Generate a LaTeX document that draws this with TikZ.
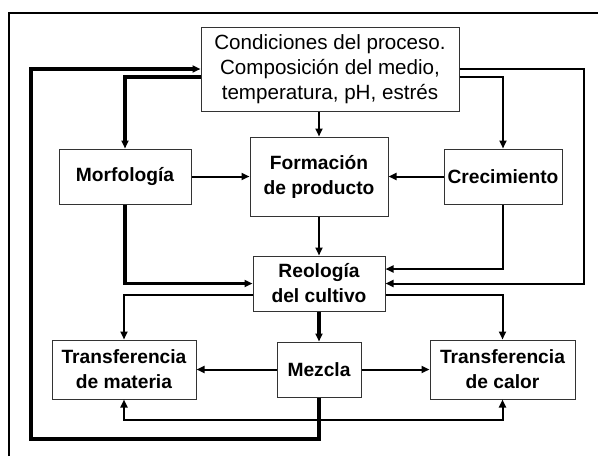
\documentclass[tikz,border=0pt]{standalone}
\usepackage{fontspec}
\setmainfont{Liberation Sans}
\usetikzlibrary{arrows.meta,positioning}

\begin{document}
\begin{tikzpicture}[x=1pt,y=-1pt,
  >={Triangle[length=8pt,width=7pt]},
  bx/.style={draw=black!80,line width=1pt,fill=white,align=center,inner sep=0pt,
    font=\fontsize{19.2}{25}\selectfont\bfseries},
  thn/.style={line width=2pt},
  thk/.style={line width=3.2pt}]
\useasboundingbox (0,0) rectangle (598,456);
\draw [line width=2.3pt] (9,456) -- (9,12.7) -- (598,12.7);

\node [bx,font=\fontsize{20.6}{25}\selectfont,minimum width=258pt,minimum height=84pt] (cond) at (330,69)
  {Condiciones del proceso.\\Composición del medio,\\temperatura, pH, estrés};
\node [bx,minimum width=132pt,minimum height=55pt] (morf) at (125,176.5) {Morfología};
\node [bx,minimum width=138pt,minimum height=79pt] (form) at (319,176.5) {Formación\\de producto};
\node [bx,minimum width=118pt,minimum height=55pt] (crec) at (503,176.5) {Crecimiento};
\node [bx,minimum width=132pt,minimum height=55pt] (reol) at (319,283.5) {Reología\\del cultivo};
\node [bx,minimum width=144pt,minimum height=59pt] (tmat) at (124,369.5) {Transferencia\\de materia};
\node [bx,minimum width=84pt,minimum height=55pt] (mezc) at (319,369.5) {Mezcla};
\node [bx,minimum width=145pt,minimum height=59pt] (tcal) at (502.5,369.5) {Transferencia\\de calor};

\coordinate (lo) at (31,439);
\coordinate (ro) at (584,69);
\coordinate (bt) at (319,420);

\draw [thn,->] (form.north |- cond.south) -- (form.north);
\draw [thk,->] ([yshift=-8pt]cond.west) -| (morf);
\draw [thn,->] ([yshift=-8pt]cond.east) -| (crec);
\draw [thn,->] (cond.east) -- (ro) |- (reol.east);
\draw [thn,->] (morf) -- (form);
\draw [thn,->] (crec) -- (form);
\draw [thn,->] (form) -- (reol);
\draw [thk,->] (morf) |- (reol);
\draw [thn,->] (crec) |- ([yshift=14.5pt]reol.east);
\draw [thn,->] ([yshift=-11.5pt]reol.west) -| (tmat);
\draw [thn,->] ([yshift=-11.5pt]reol.east) -| (tcal);
\draw [thk,->] (reol) -- (mezc);
\draw [thn,->] (mezc) -- (tmat);
\draw [thn,->] (mezc) -- (tcal);
\draw [thn,<->] (tmat) |- (bt) -| (tcal);
\draw [thk,->] (mezc) |- (lo) |- (cond.west);
\end{tikzpicture}
\end{document}
